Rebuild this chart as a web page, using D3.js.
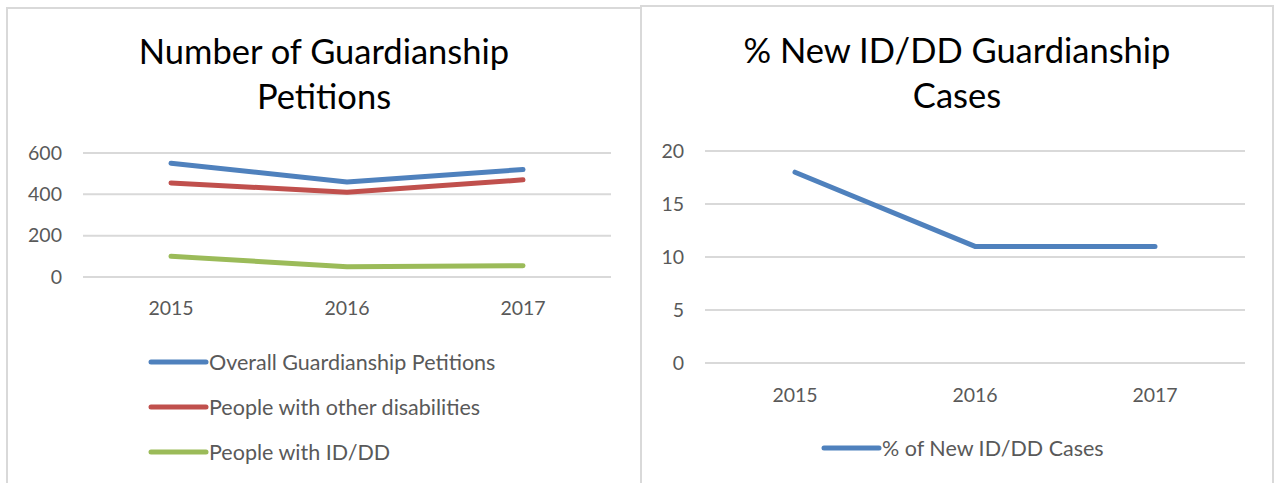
<!DOCTYPE html>
<html>
<head>
<meta charset="utf-8">
<script src="https://cdn.jsdelivr.net/npm/d3@7"></script>
<style>
  body { margin: 0; background: #fff; }
  svg { display: block; font-family: Lato, "Open Sans", sans-serif; }
</style>
</head>
<body>
<svg id="chart" width="1274" height="483"></svg>
<script>
// data
var years = ["2015", "2016", "2017"];
var overallPetitions = [550, 460, 520];
var otherDisabilities = [455, 410, 470];
var idddPetitions = [100, 50, 55];
var petitionTicks = [0, 200, 400, 600];

var pctNewIddd = [18, 11, 11];
var pctTicks = [0, 5, 10, 15, 20];

var svg = d3.select("#chart");

function drawPanel(cfg) {
  var g = svg.append("g");

  // frame
  g.append("rect")
    .attr("x", cfg.box[0]).attr("y", cfg.box[1])
    .attr("width", cfg.box[2]).attr("height", cfg.box[3])
    .attr("fill", "#fff")
    .attr("stroke", "#d9d9d9")
    .attr("stroke-width", 2);

  // title
  var title = g.append("text")
    .attr("text-anchor", "middle")
    .attr("font-size", 34.5)
    .attr("fill", "#000");
  cfg.title.forEach(function (t, i) {
    title.append("tspan")
      .attr("x", cfg.titleX)
      .attr("y", cfg.titleY + i * 45)
      .text(t);
  });

  var x = d3.scaleBand().domain(years).range([cfg.left, cfg.right]);
  var y = d3.scaleLinear().domain(cfg.yDomain).range([cfg.bottom, cfg.top]);

  // gridlines
  g.append("g")
    .selectAll("line")
    .data(cfg.ticks).enter()
    .append("line")
    .attr("x1", cfg.left).attr("x2", cfg.right)
    .attr("y1", function (d) { return y(d); })
    .attr("y2", function (d) { return y(d); })
    .attr("stroke", "#d9d9d9")
    .attr("stroke-width", 2);

  // y labels
  var yAxis = g.append("g")
    .attr("transform", "translate(" + (cfg.left - 21) + ",0)")
    .call(d3.axisLeft(y).tickValues(cfg.ticks).tickSize(0).tickPadding(0));
  yAxis.select(".domain").remove();
  yAxis.selectAll("text")
    .attr("font-family", "Lato, sans-serif")
    .attr("font-size", 19.5)
    .attr("fill", "#595959");

  // x labels
  var xAxis = g.append("g")
    .attr("transform", "translate(0," + (cfg.bottom + cfg.xLabelGap) + ")")
    .call(d3.axisBottom(x).tickSize(0).tickPadding(0));
  xAxis.select(".domain").remove();
  xAxis.selectAll("text")
    .attr("font-family", "Lato, sans-serif")
    .attr("font-size", 19.5)
    .attr("fill", "#595959");

  var line = d3.line()
    .x(function (d, i) { return x(years[i]) + x.bandwidth() / 2; })
    .y(function (d) { return y(d); });

  cfg.series.forEach(function (s) {
    g.append("path")
      .datum(s.values)
      .attr("d", line)
      .attr("fill", "none")
      .attr("stroke", s.color)
      .attr("stroke-width", 5)
      .attr("stroke-linecap", "round")
      .attr("stroke-linejoin", "round");
  });

  // legend
  var leg = g.append("g")
    .selectAll("g")
    .data(cfg.series).enter()
    .append("g")
    .attr("transform", function (d, i) {
      return "translate(" + cfg.legendX + "," + (cfg.legendY + i * 45) + ")";
    });
  leg.append("line")
    .attr("x1", 0).attr("x2", 55)
    .attr("stroke", function (d) { return d.color; })
    .attr("stroke-width", 5)
    .attr("stroke-linecap", "round");
  leg.append("text")
    .attr("x", 58)
    .attr("dy", "0.35em")
    .attr("font-size", 21.5)
    .attr("fill", "#595959")
    .text(function (d) { return d.name; });
}

drawPanel({
  box: [7, 8, 634, 490],
  title: ["Number of Guardianship", "Petitions"],
  titleX: 324, titleY: 64,
  left: 83, right: 611, top: 153, bottom: 277,
  yDomain: [0, 600], ticks: petitionTicks,
  xLabelGap: 24,
  series: [
    { name: "Overall Guardianship Petitions", values: overallPetitions, color: "#4f81bd" },
    { name: "People with other disabilities", values: otherDisabilities, color: "#c0504d" },
    { name: "People with ID/DD", values: idddPetitions, color: "#9bbb59" }
  ],
  legendX: 151, legendY: 362
});

drawPanel({
  box: [641, 6, 632, 490],
  title: ["% New ID/DD Guardianship", "Cases"],
  titleX: 957, titleY: 63,
  left: 705, right: 1245, top: 151, bottom: 363,
  yDomain: [0, 20], ticks: pctTicks,
  xLabelGap: 25,
  series: [
    { name: "% of New ID/DD Cases", values: pctNewIddd, color: "#4f81bd" }
  ],
  legendX: 824, legendY: 448
});
</script>
</body>
</html>
